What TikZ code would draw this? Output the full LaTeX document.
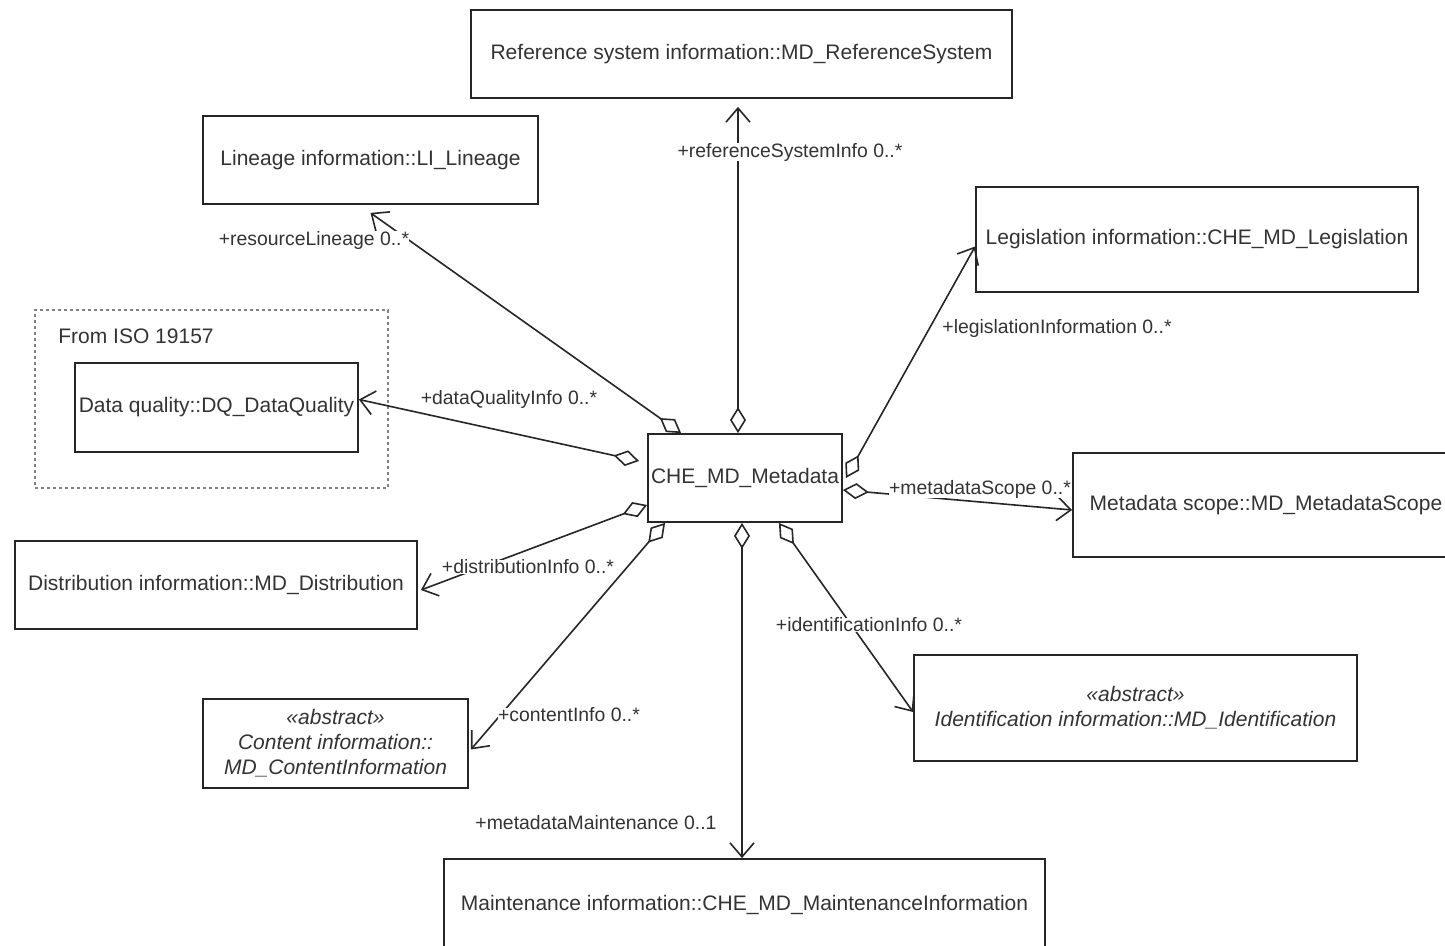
\documentclass[tikz,border=0pt]{standalone}
\usepackage{fontspec}
\setmainfont{Liberation Sans}
\usetikzlibrary{arrows.meta}
\colorlet{umlline}{black!85}
\colorlet{umltext}{black!80}

\begin{document}
\begin{tikzpicture}[x=0.5pt,y=-0.5pt,
        box/.style={draw=umlline, line width=0.9pt, text=umltext, inner sep=0pt, align=center,
            font=\fontsize{10.5}{12.5}\selectfont, minimum height=44pt},
        abox/.style={box, font=\fontsize{10.5}{12.5}\selectfont\itshape},
        pkgbox/.style={draw=gray, line width=1pt, dash pattern=on 1.5pt off 1.5pt, inner sep=0pt},
        role/.style={text=umltext, fill=white, font=\fontsize{9.7}{11}\selectfont, inner sep=0pt},
        agg/.style={draw=umlline, line width=0.8pt,
            {Diamond[open,length=13pt,width=8pt]}-{Straight Barb[length=7pt,width=12pt]}}]
        \useasboundingbox (0,0) rectangle (1445,946);
        \clip (0,0) rectangle (1445,946);

        %package ISO 19157
        \node[pkgbox, minimum width=176.5pt, minimum height=89pt] (iso) at (211.5,399) {};
        \node[anchor=west, text=umltext, font=\fontsize{10.5}{12.5}\selectfont, inner sep=0pt] (isolbl) at (58,336) {From ISO 19157};

        %classes
        \node[box, minimum width=97pt] (meta) at (745,478) {CHE\_MD\_Metadata};
        \node[box, minimum width=270.5pt] (ref) at (741.5,54) {Reference system information::MD\_ReferenceSystem};
        \node[box, minimum width=167.5pt] (lin) at (370.5,160) {Lineage information::LI\_Lineage};
        \node[box, minimum width=221pt, minimum height=52.5pt] (leg) at (1197,239.5) {Legislation information::CHE\_MD\_Legislation};
        \node[box, minimum width=141.5pt, minimum height=44.5pt] (dq) at (216.5,407.5) {Data quality::DQ\_DataQuality};
        \node[box, minimum width=193pt, minimum height=52pt] (scope) at (1266,505) {Metadata scope::MD\_MetadataScope};
        \node[box, minimum width=201pt] (dist) at (216,585) {Distribution information::MD\_Distribution};
        \node[abox, minimum width=132.5pt, minimum height=44.5pt] (cont) at (335.5,743.5) {«abstract»\\Content information::\\MD\_ContentInformation};
        \node[abox, minimum width=221.5pt, minimum height=53pt] (ident) at (1135.5,708) {«abstract»\\Identification information::MD\_Identification};
        \node[box, minimum width=300.5pt, minimum height=46pt] (maint) at (744.5,905) {Maintenance information::CHE\_MD\_MaintenanceInformation};

        %aggregations
        \draw[agg, shorten >=4pt] ([xshift=-3.5pt]meta.north) -- ([xshift=-3.5pt]meta.north |- ref.south);
        \draw[agg] ([xshift=17pt]meta.north west) -- ([yshift=-4pt]lin.south);
        \draw[agg] ([shift={(-4pt,8.5pt)}]meta.west) -- ([yshift=4pt]dq.east);
        \draw[agg] ([yshift=-13.5pt]meta.west) -- ([shift={(1.5pt,-2.5pt)}]dist.east);
        \draw[agg] ([xshift=9pt]meta.south west) -- ([shift={(1pt,-3pt)}]cont.east);
        \draw[agg] ([xshift=-1.5pt]meta.south) -- ([xshift=-1.5pt]meta.south |- maint.north);
        \draw[agg] ([xshift=-32pt]meta.south east) -- ([yshift=-2pt]ident.west);
        \draw[agg] ([yshift=-6pt]meta.east) -- ([yshift=-2.5pt]scope.west);
        \draw[agg] ([xshift=1.5pt]meta.east) -- ([yshift=-3.5pt]leg.west);

        %role names
        \node[role] (rrole) at (790,152) {+referenceSystemInfo 0..*};
        \node[role] (lrole) at (314,240) {+resourceLineage 0..*};
        \node[role] (qrole) at (509,399) {+dataQualityInfo 0..*};
        \node[role] (grole) at (1057,328) {+legislationInformation 0..*};
        \node[role] (srole) at (980,489) {+metadataScope 0..*};
        \node[role] (drole) at (528,567) {+distributionInfo 0..*};
        \node[role] (irole) at (869,625) {+identificationInfo 0..*};
        \node[role] (crole) at (569,715) {+contentInfo 0..*};
        \node[role] (mrole) at (596,823) {+metadataMaintenance 0..1};
    \end{tikzpicture}
\end{document}
